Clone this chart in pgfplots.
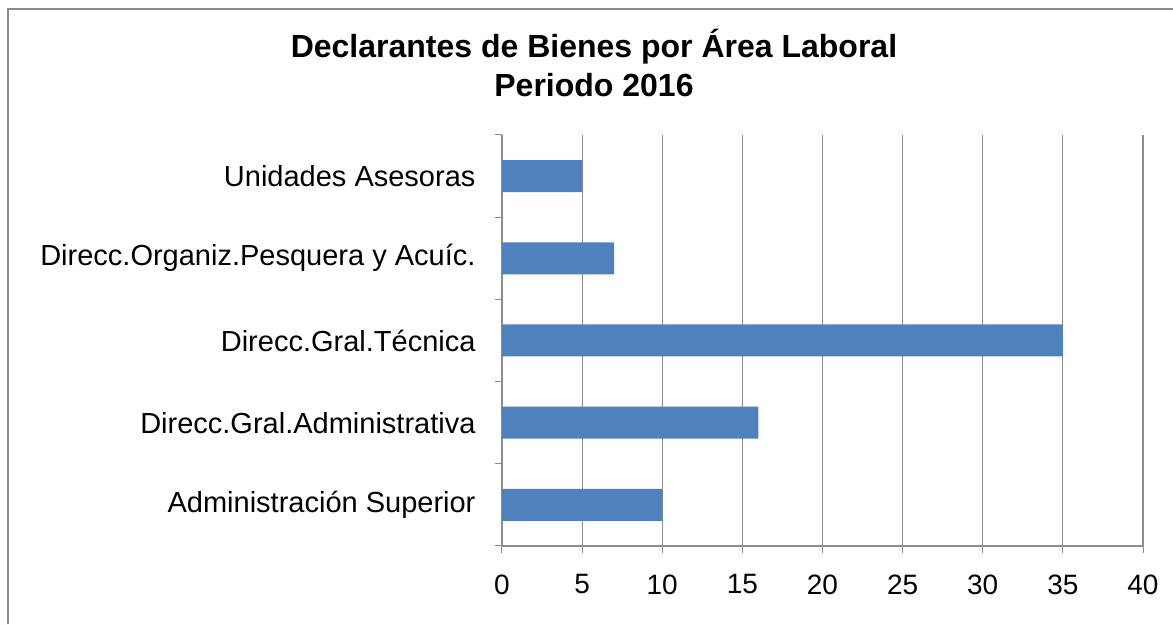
\documentclass[border=0pt]{standalone}
\usepackage{pgfplots}
\pgfplotsset{compat=1.18}
\usepackage{fontspec}
\setmainfont{Liberation Sans}
\definecolor{barblue}{HTML}{4F81BD}
\definecolor{gridgray}{HTML}{8C8C8C}
\definecolor{framegray}{HTML}{8A8A8A}
\begin{document}
\begin{tikzpicture}
\path[use as bounding box] (0pt,0pt) rectangle (1173pt,624pt);
\fill[white] (0pt,0pt) rectangle (1173pt,624pt);
\draw[framegray, line width=2.5pt] (8pt,0pt) -- (8pt,615pt) -- (1173pt,615pt);
\node[font=\bfseries\fontsize{32}{36}\selectfont] at (594pt,577pt) {Declarantes de Bienes por Área Laboral};
\node[font=\bfseries\fontsize{32}{36}\selectfont] at (594pt,539pt) {Periodo 2016};
\begin{axis}[
  at={(502pt,78pt)}, anchor=south west,
  scale only axis, width=641pt, height=411pt,
  xbar, bar width=32pt,
  xmin=0, xmax=40, ymin=-0.5, ymax=4.5,
  xtick={0,5,...,40},
  ytick={0,1,2,3,4},
  yticklabels={Administración Superior, Direcc.Gral.Administrativa, Direcc.Gral.Técnica, Direcc.Organiz.Pesquera y Acuíc., Unidades Asesoras},
  minor ytick={-0.5,0.5,1.5,2.5,3.5,4.5},
  major y tick style={draw=none},
  minor y tick style={gridgray, line width=1pt},
  major x tick style={gridgray, line width=1pt},
  major tick length=7pt, minor tick length=7pt,
  tick align=outside,
  xmajorgrids,
  grid style={gridgray, line width=1.2pt},
  axis x line*=bottom, axis y line*=left,
  axis line style={gridgray, line width=1.2pt, -},
  yticklabel style={font=\fontsize{29}{33}\selectfont, xshift=-16pt},
  xticklabel style={font=\fontsize{28}{32}\selectfont, yshift=-18pt},
  /pgf/number format/assume math mode=true,
]
\addplot[fill=barblue, draw=none] coordinates {(10,0) (16,1) (35,2) (7,3) (5,4)};
\end{axis}
\end{tikzpicture}
\end{document}
